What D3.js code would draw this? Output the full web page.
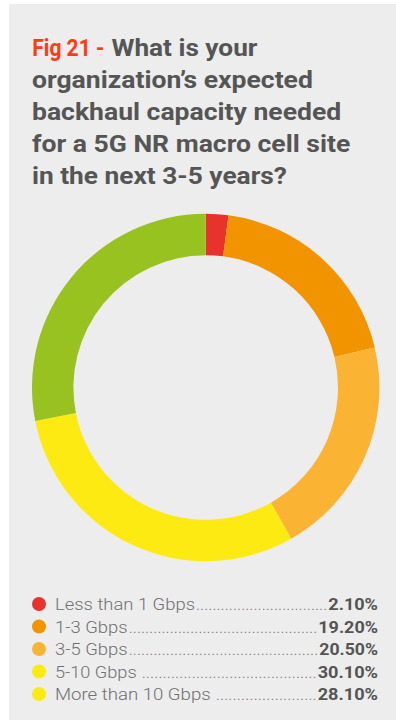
<!DOCTYPE html>
<html><head><meta charset="utf-8">
<script src="https://cdn.jsdelivr.net/npm/d3@7"></script>
<style>
html,body{margin:0;padding:0;background:#fff;}
svg{display:block;}
</style></head>
<body>
<svg id="chart" width="396" height="720"></svg>
<script>
const categories = ["Less than 1 Gbps","1-3 Gbps","3-5 Gbps","5-10 Gbps ","More than 10 Gbps "];
const values = [2.10, 19.20, 20.50, 30.10, 28.10];
const valueLabels = ["2.10%","19.20%","20.50%","30.10%","28.10%"];
const arcColors = ["#E8332C","#F29300","#FAB333","#FDEA12","#97C21F"];
const legendColors = ["#E8332C","#F29300","#FAB333","#FDEA12","#FDEA12"];
const titlePrefix = "Fig 21 -";
const titleLines = ["What is your","organization\u2019s expected","backhaul capacity needed","for a 5G NR macro cell site","in the next 3-5 years?"];

// measured text extents (layout, not data)
const titleWidths=[146,281,309.4,318.4,255];
const labelWidths=[140,72.7,72.7,81.7,155.7];
const valueWidths=[49.7,59.7,58.7,60.3,60.3];

const W=396,H=720;
const svg=d3.select("#chart");
svg.append("rect").attr("x",9).attr("y",4).attr("width",W-9).attr("height",H-4).attr("fill","#EDEDED");

// place text at (x,y), stretched horizontally to width w
function fitText(sel,x,y,w){
  const nat=sel.node().getComputedTextLength();
  const s=w/nat;
  sel.attr("x",0).attr("y",0).attr("transform",`translate(${x},${y}) scale(${s},1)`);
}

// title
const title=svg.append("g").attr("font-family","Roboto, sans-serif").attr("font-weight",700)
  .attr("font-size",23.5).attr("fill","#555555");
titleLines.forEach((l,i)=>{
  const y=56+i*32;
  let x=32;
  if(i===0){
    const p=title.append("text").attr("fill","#FF3B14").text(titlePrefix);
    fitText(p,32.3,y,72);
    x=111.5;
  }
  fitText(title.append("text").text(l),x,y,titleWidths[i]);
});

// donut
const cx=205.7, cy=387.5, rOut=173.7, rIn=132.3;
const pie=d3.pie().sort(null).value(d=>d);
const arc=d3.arc().innerRadius(rIn).outerRadius(rOut);
svg.append("g").attr("transform",`translate(${cx},${cy})`)
  .selectAll("path").data(pie(values)).join("path")
  .attr("d",arc).attr("fill",(d,i)=>arcColors[i]);

// legend
const y0=604, dy=22.5, xr=378;
const lg=svg.append("g").attr("font-family","Roboto, sans-serif").attr("font-size",17);
categories.forEach((c,i)=>{
  const y=y0+i*dy;
  lg.append("circle").attr("cx",39).attr("cy",y).attr("r",7).attr("fill",legendColors[i]);
  fitText(lg.append("text").attr("font-weight",300).attr("fill","#707070").text(c.trim()),55,y+6,labelWidths[i]);
  fitText(lg.append("text").attr("font-weight",700).attr("fill","#555555").text(valueLabels[i]),xr-valueWidths[i],y+6,valueWidths[i]);
  const lEnd=55+labelWidths[i]+(c.endsWith(" ")?5:1);
  const vStart=xr-valueWidths[i]-1;
  const dots=lg.append("text").attr("x",lEnd).attr("y",y+6).attr("font-weight",300).attr("fill","#7a7a7a");
  dots.text(".");
  const dw=dots.node().getComputedTextLength();
  const n=Math.max(0,Math.floor((vStart-lEnd)/dw));
  dots.text(".".repeat(n)).attr("textLength",vStart-lEnd).attr("lengthAdjust","spacing");
});
</script>
</body></html>
